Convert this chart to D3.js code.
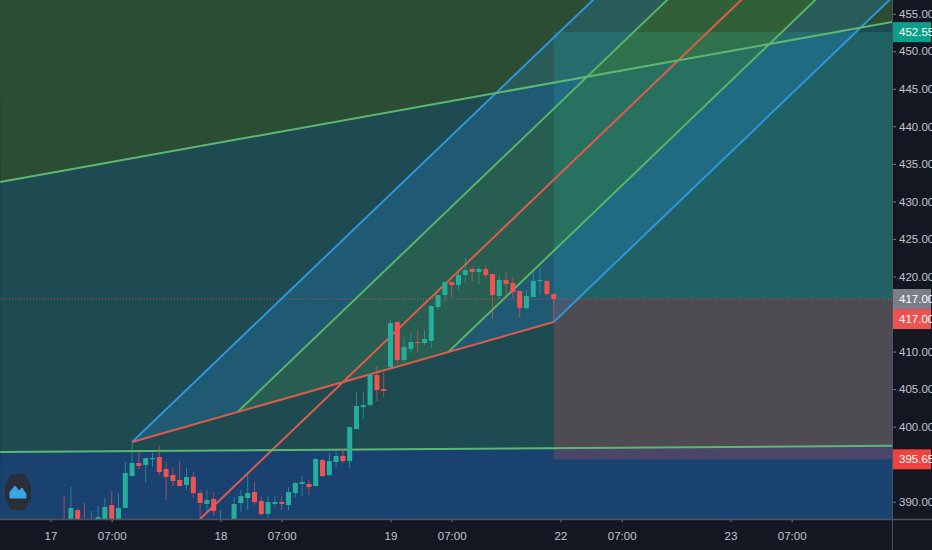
<!DOCTYPE html>
<html>
<head>
<meta charset="utf-8">
<script src="https://cdnjs.cloudflare.com/ajax/libs/d3/7.8.5/d3.min.js"></script>
<style>
  html, body { margin: 0; padding: 0; background: #131722; }
  svg { display: block; }
  text { font-family: "Liberation Sans Narrow", "Liberation Sans", sans-serif; }
</style>
</head>
<body>
<div id="chart"></div>
<script>
// candles, bar index starts at firstBar
const firstBar = 2
const opens = [387.5,387,388.9,387.4,386.5,387.5,387,389.56,387,389.16,393.42,395.16,394.89,395.69,395.95,394.36,393.56,392.89,392.22,393.29,391.16,389.7,390.36,387,386.5,387,389.83,390.49,391.29,390.09,388.36,389.7,389.96,389.56,391.16,392.36,392.36,392.09,395.55,393.56,395.29,396.09,395.42,399.68,402.61,402.88,406.88,405.01,407.94,413.94,408.87,410.34,411.27,411.14,411.41,415.93,417.53,419.26,418.86,420.2,421,420.6,421,420.33,417.4,419.53,419.13,418.07,415.8,417.27,419.4,419.4,417.67]
const highs = [390.76,391.96,389.16,389.83,388.77,389.43,390.49,391.42,391.16,395.29,397.82,396.75,395.82,396.49,397.42,395.29,394.62,395.42,394.49,393.96,391.56,391.56,391.29,388.9,387,390.63,391.56,393.96,392.62,390.63,390.76,390.76,390.76,391.96,392.62,393.42,392.89,395.82,395.69,396.49,396.62,397.02,399.95,404.61,404.61,407.14,408.08,407.14,414.2,413.94,411.94,412.34,412.87,412.87,416.07,417.53,419.26,419.26,420.86,422.46,421.4,421.4,421.53,420.33,420.2,420.6,419.93,418.07,418.2,420.86,421.13,419.53,417.8]
const lows = [386.5,386.5,386.5,386.8,386,387,386.8,387.3,386.8,389.16,393.42,394.36,392.49,394.62,393.56,390.23,392.09,392.09,391.56,390.49,387,388.63,388.1,386.5,386,386.5,388.63,388.9,389.56,388.1,387.83,389.16,388.9,388.9,390.63,390.76,390.89,391.96,393.29,393.42,394.62,395.16,394.49,399.68,401.02,402.61,403.41,403.95,407.68,408.34,408.61,409.81,409.94,410.87,410.47,415.53,416.6,417.13,418.2,419.13,419.26,419,419.8,414.34,417,417.53,417.13,414.47,415.53,417.27,417.53,417.4,413.94]
const closes = [387,389.16,387,387,387,387.96,389.3,387,389.16,393.82,395.16,394.76,395.82,395.82,393.96,393.29,392.76,392.09,393.29,391.16,389.83,390.23,388.77,387.4,386.8,389.7,390.76,391.16,389.96,388.36,389.96,389.96,389.7,391.29,392.49,392.62,391.96,395.69,393.42,395.42,396.09,395.42,399.95,402.75,402.88,406.88,404.88,404.75,413.8,408.87,410.61,411.27,411.14,411.67,416.07,417.53,419.26,418.86,420.2,420.86,420.6,421,420.2,417.53,419.53,419,417.93,415.8,417.4,419.4,419.53,417.67,417]

// axis labels
const timeTickBars = [0, 9, 25, 34, 50, 59, 75, 84, 100, 109]
const timeTickLabels = ['17', '07:00', '18', '07:00', '19', '07:00', '22', '07:00', '23', '07:00']
const priceTicks = [390, 400, 405, 410, 420, 425, 430, 435, 440, 445, 450, 455]

// drawings, [bar, price]
const upperTrend = [[-7.4, 432.6], [123.8, 453.9]]
const lowerTrend = [[-7.4, 396.62], [123.8, 397.46]]
const pitchforkPivot = [22, 387.7]
const pitchforkA = [12, 397.95]
const pitchforkB = [74, 413.94]
const positionStartBar = 74
const entryPrice = 417
const targetPrice = 452.55
const stopPrice = 395.65

const width = 932
const height = 550
const plotRight = 892
const plotBottom = 519

const x = d3.scaleLinear().domain([0, 100]).range([50.5, 730.5])
const y = d3.scaleLinear().domain([387.7, 456.83]).range([plotBottom, 0])
const px = d => [x(d[0]), y(d[1])]

const svg = d3.select('#chart').append('svg')
              .attr('width', width)
              .attr('height', height)

svg.append('rect').attr('width', width).attr('height', height).attr('fill', '#131722')

svg.append('clipPath').attr('id', 'plot')
   .append('rect').attr('width', plotRight).attr('height', plotBottom)

const plot = svg.append('g').attr('clip-path', 'url(#plot)')

// background bands from the two long trend lines
const poly = (pts, fill) => plot.append('polygon')
  .attr('points', pts.map(d => d.join(',')).join(' '))
  .attr('fill', fill)

const up0 = px(upperTrend[0]), up1 = px(upperTrend[1])
const lo0 = px(lowerTrend[0]), lo1 = px(lowerTrend[1])
poly([[0, -5], [plotRight, -5], up1, up0], '#2b4d33')
poly([up0, up1, lo1, lo0], '#1e4a52')
poly([lo0, lo1, [plotRight, plotBottom], [0, plotBottom]], '#1a4270')

// long position box
plot.append('rect')
    .attr('x', x(positionStartBar)).attr('width', plotRight - x(positionStartBar))
    .attr('y', y(targetPrice)).attr('height', y(entryPrice) - y(targetPrice))
    .attr('fill', 'rgba(38,166,154,0.25)')
plot.append('rect')
    .attr('x', x(positionStartBar)).attr('width', plotRight - x(positionStartBar))
    .attr('y', y(entryPrice)).attr('height', y(stopPrice) - y(entryPrice))
    .attr('fill', 'rgba(239,83,80,0.23)')

// pitchfork
const a = px(pitchforkA), b = px(pitchforkB), p = px(pitchforkPivot)
const m = [(a[0] + b[0]) / 2, (a[1] + b[1]) / 2]
const dir = [m[0] - p[0], m[1] - p[1]]
const along = (pt, k) => [pt[0] + dir[0] * k, pt[1] + dir[1] * k]
const lerp = (t) => [a[0] + (b[0] - a[0]) * t, a[1] + (b[1] - a[1]) * t]
const far = 4
const q1 = lerp(0.25), q3 = lerp(0.75)

poly([a, q1, along(q1, far), along(a, far)], 'rgba(33,150,243,0.2)')
poly([q1, q3, along(q3, far), along(q1, far)], 'rgba(76,175,80,0.2)')
poly([q3, b, along(b, far), along(q3, far)], 'rgba(33,150,243,0.2)')

const seg = (s, e, color) => plot.append('line')
  .attr('x1', s[0]).attr('y1', s[1]).attr('x2', e[0]).attr('y2', e[1])
  .attr('stroke', color).attr('stroke-width', 2)

seg(a, along(a, far), '#2f95dd')
seg(b, along(b, far), '#2f95dd')
seg(q1, along(q1, far), '#57b566')
seg(q3, along(q3, far), '#57b566')
seg(p, along(p, far), '#e05c4a')
seg(a, b, '#e05c4a')
seg(up0, up1, '#5cb870')
seg(lo0, lo1, '#5cb870')

// candles
const bars = d3.range(opens.length).map(i => ({
  bar: firstBar + i, o: opens[i], h: highs[i], l: lows[i], c: closes[i]
}))
const candleColor = d => d.c >= d.o ? '#27ad9c' : '#ef5350'

plot.append('g').selectAll('line').data(bars).enter().append('line')
    .attr('x1', d => x(d.bar)).attr('x2', d => x(d.bar))
    .attr('y1', d => y(d.h)).attr('y2', d => y(d.l))
    .attr('stroke', candleColor).attr('stroke-opacity', 0.65)

plot.append('g').selectAll('rect').data(bars).enter().append('rect')
    .attr('x', d => x(d.bar) - 2.5).attr('width', 5)
    .attr('y', d => y(Math.max(d.o, d.c)))
    .attr('height', d => Math.max(1.2, Math.abs(y(d.o) - y(d.c))))
    .attr('fill', candleColor)

// last price dotted line
plot.append('line')
    .attr('x1', 0).attr('x2', plotRight).attr('y1', y(entryPrice)).attr('y2', y(entryPrice))
    .attr('stroke', '#ef5350').attr('stroke-opacity', 0.75).attr('stroke-dasharray', '1 2')

// logo
const logo = svg.append('g').attr('transform', 'translate(18,492)')
logo.append('path')
    .attr('d', 'M-6,-17 L6,-17 L12,-7 L12,7 L6,17 L-6,17 L-12,7 L-12,-7 Z')
    .attr('fill', '#2a2e39').attr('stroke', '#2a2e39').attr('stroke-width', 2).attr('stroke-linejoin', 'round')
logo.append('path')
    .attr('d', 'M-8,6 L-8,0 L-3,-6 L1,-1 L4,-4 L8,2 L8,6 Z')
    .attr('fill', '#3aa6e6').attr('stroke', '#3aa6e6').attr('stroke-linejoin', 'round')

// axes
const xAxis = d3.axisBottom(x)
  .tickValues(timeTickBars)
  .tickFormat((d, i) => timeTickLabels[i])
  .tickSize(3)
  .tickPadding(10)

const xg = svg.append('g').attr('transform', 'translate(0,' + plotBottom + ')').call(xAxis)
xg.select('.domain').remove()
xg.selectAll('line').attr('stroke', '#787b86')
xg.selectAll('text').attr('fill', '#c3c6ce').style('font-size', '11.5px')

const yAxis = d3.axisRight(y)
  .tickValues(priceTicks)
  .tickFormat(d3.format('.2f'))
  .tickSize(4)
  .tickPadding(3)

const yg = svg.append('g').attr('transform', 'translate(' + plotRight + ',0)').call(yAxis)
yg.select('.domain').remove()
yg.selectAll('line').attr('stroke', '#787b86')
yg.selectAll('text').attr('fill', '#c3c6ce').style('font-size', '11.5px')

svg.append('line').attr('x1', 0).attr('x2', width).attr('y1', plotBottom + 0.5).attr('y2', plotBottom + 0.5)
   .attr('stroke', '#50535e').attr('stroke-width', 1.5)
svg.append('line').attr('x1', plotRight + 0.5).attr('x2', plotRight + 0.5).attr('y1', 0).attr('y2', height)
   .attr('stroke', '#50535e')

// price labels on the axis
const priceLabels = [
  {text: d3.format('.2f')(targetPrice), price: targetPrice, fill: '#0b9e8a', color: '#ffffff'},
  {text: d3.format('.2f')(entryPrice), price: entryPrice, fill: '#7b7e88', color: '#ffffff'},
  {text: d3.format('.2f')(entryPrice), price: entryPrice - 2.67, fill: '#ef5350', color: '#ffffff'},
  {text: d3.format('.2f')(stopPrice), price: stopPrice, fill: '#f0423f', color: '#ffffff'}
]
const pl = svg.append('g').selectAll('g').data(priceLabels).enter().append('g')
  .attr('transform', d => 'translate(' + (plotRight + 1) + ',' + y(d.price) + ')')
pl.append('rect').attr('x', 0).attr('y', -10).attr('width', 38).attr('height', 20).attr('fill', d => d.fill)
pl.append('text').attr('x', 6).attr('dy', '0.35em')
  .attr('fill', d => d.color).style('font-size', '11.5px').text(d => d.text)
</script>
</body>
</html>
